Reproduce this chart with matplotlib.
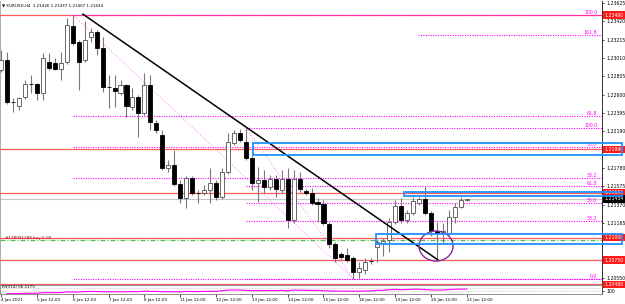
import numpy as np
import pandas as pd
import matplotlib
matplotlib.use("Agg")
import matplotlib.pyplot as plt
import matplotlib.transforms as mtransforms
from matplotlib.patches import Rectangle, Ellipse

# ---------------- data ----------------
header_text = "EURUSD,H4  1.21426 1.21437 1.21407 1.21434"
bar_index = list(range(3, 82))
opens = [1.22877, 1.22988, 1.22519, 1.22474, 1.22575, 1.22720, 1.22715, 1.22619, 1.22966, 1.22955,
         1.22888, 1.22966, 1.23368, 1.23189, 1.22988, 1.23245, 1.23301, 1.23122, 1.22686, 1.22675,
         1.22619, 1.22709, 1.22463, 1.22575, 1.22396, 1.22709, 1.22284, 1.22150, 1.21781, 1.21814,
         1.21601, 1.21445, 1.21669, 1.21501, 1.21497, 1.21535, 1.21613, 1.21456, 1.21736, 1.22060,
         1.22172, 1.22071, 1.21892, 1.21613, 1.21646, 1.21568, 1.21657, 1.21535, 1.21657, 1.21199,
         1.21657, 1.21523, 1.21501, 1.21401, 1.21378, 1.21155, 1.20931, 1.20819, 1.20808, 1.20775,
         1.20618, 1.20640, 1.20741, 1.20897, 1.20942, 1.20976, 1.21177, 1.21356, 1.21199, 1.21278,
         1.21390, 1.21434, 1.21278, 1.21077, 1.21054, 1.21054, 1.21233, 1.21345, 1.21426]
highs = [1.23100, 1.23078, 1.22563, 1.22575, 1.22765, 1.22821, 1.22731, 1.23066, 1.23066, 1.23011,
         1.23078, 1.23458, 1.23491, 1.23212, 1.23424, 1.23346, 1.23324, 1.23245, 1.22821, 1.22821,
         1.22765, 1.22720, 1.22675, 1.22597, 1.22843, 1.22821, 1.22317, 1.22206, 1.21870, 1.21982,
         1.21646, 1.21691, 1.21691, 1.21535, 1.21590, 1.21781, 1.21646, 1.21781, 1.22172, 1.22206,
         1.22217, 1.22228, 1.21926, 1.21792, 1.21758, 1.21702, 1.21702, 1.21758, 1.21781, 1.21758,
         1.21736, 1.21546, 1.21557, 1.21445, 1.21423, 1.21177, 1.20953, 1.20842, 1.20886, 1.20797,
         1.20730, 1.20775, 1.20775, 1.20976, 1.20998, 1.21222, 1.21423, 1.21445, 1.21311, 1.21456,
         1.21456, 1.21568, 1.21300, 1.21177, 1.21166, 1.21311, 1.21390, 1.21456, 1.21437]
lows = [1.22854, 1.22496, 1.22407, 1.22429, 1.22553, 1.22619, 1.22541, 1.22541, 1.22877, 1.22877,
        1.22765, 1.22944, 1.23156, 1.22653, 1.22966, 1.23189, 1.23044, 1.22630, 1.22452, 1.22463,
        1.22597, 1.22351, 1.22429, 1.22127, 1.22373, 1.22206, 1.22172, 1.21758, 1.21736, 1.21579,
        1.21390, 1.21334, 1.21479, 1.21390, 1.21479, 1.21390, 1.21423, 1.21434, 1.21714, 1.22038,
        1.22071, 1.21870, 1.21535, 1.21401, 1.21501, 1.21535, 1.21456, 1.21501, 1.21110, 1.21166,
        1.21512, 1.21479, 1.21367, 1.21177, 1.21144, 1.20886, 1.20730, 1.20752, 1.20730, 1.20540,
        1.20545, 1.20595, 1.20707, 1.20730, 1.20797, 1.20842, 1.21155, 1.21166, 1.21166, 1.21255,
        1.21367, 1.21255, 1.21021, 1.20752, 1.20942, 1.21032, 1.21166, 1.21334, 1.21407]
closes = [1.22988, 1.22519, 1.22515, 1.22563, 1.22720, 1.22715, 1.22619, 1.23011, 1.22899, 1.22888,
          1.22955, 1.23379, 1.23178, 1.22966, 1.23212, 1.23301, 1.23122, 1.22686, 1.22680, 1.22642,
          1.22709, 1.22474, 1.22575, 1.22396, 1.22709, 1.22295, 1.22206, 1.21781, 1.21814, 1.21601,
          1.21445, 1.21669, 1.21501, 1.21497, 1.21535, 1.21613, 1.21456, 1.21736, 1.22071, 1.22172,
          1.22094, 1.21892, 1.21613, 1.21646, 1.21568, 1.21657, 1.21546, 1.21657, 1.21199, 1.21657,
          1.21546, 1.21501, 1.21390, 1.21378, 1.21166, 1.20931, 1.20775, 1.20786, 1.20752, 1.20618,
          1.20663, 1.20730, 1.20735, 1.20953, 1.20965, 1.21177, 1.21356, 1.21199, 1.21278, 1.21412,
          1.21434, 1.21278, 1.21077, 1.21054, 1.21077, 1.21233, 1.21345, 1.21423, 1.21434]

time_tick_bars = [3, 9, 15, 21, 27, 33, 39, 45, 51, 57, 63, 69, 75, 81]
time_tick_labels = ["4 Jan 2021", "5 Jan 12:00", "6 Jan 12:00", "7 Jan 12:00", "8 Jan 12:00",
                    "11 Jan 12:00", "12 Jan 12:00", "13 Jan 12:00", "14 Jan 12:00", "15 Jan 12:00",
                    "18 Jan 12:00", "19 Jan 12:00", "20 Jan 12:00", "21 Jan 12:00"]
price_ticks = [1.23625, 1.23420, 1.23215, 1.23010, 1.22805, 1.22600, 1.22395, 1.22190,
               1.21780, 1.21575, 1.21370, 1.21165, 1.20550]
red_levels = [1.23490, 1.21990, 1.21500, 1.21000, 1.20750, 1.20480]
current_price = 1.21434

fib_levels = [0.0, 38.2, 50.0, 61.8, 100.0, 161.8]
fibA_bars = (15, 62)
fibA_prices = (1.23491, 1.20540)
fibB_bars = (44, 62)
fibB_prices = (1.22228, 1.20540)
fibB_ext_start_bar = 72.8   # where the 161.8 line of the second set starts

trend_bars = (16.7, 76.2)
trend_prices = (1.23500, 1.20750)

box_start_bars = [45.2, 70.5, 65.8]
box_tops = [1.22060, 1.21512, 1.21041]
box_bottoms = [1.21926, 1.21467, 1.20931]

order_price = 1.20976
order_text = "#178091288 buy 5.00"

ellipse_bar, ellipse_price = 75.85, 1.20907
ellipse_w_bars, ellipse_h_price = 5.7, 0.00336

rsi_period = 14
rsi_label = "RSI(14) 56.1175"

# ---------------- layout ----------------
W, H = 625, 304
fig = plt.figure(figsize=(W / 100, H / 100), dpi=100)
fig.patch.set_facecolor("white")

ax_right_px = 602
main_top, main_bot = 1, 285
rsi_top, rsi_bot = 285, 294
ax = fig.add_axes([0, 1 - main_bot / H, ax_right_px / W, (main_bot - main_top) / H])
axr = fig.add_axes([0, 1 - rsi_bot / H, ax_right_px / W, (rsi_bot - rsi_top) / H])

x_left, x_right = 2.814, 103.65
y_top, y_bot = 1.23647, 1.20471
ax.set_xlim(x_left, x_right)
ax.set_ylim(y_bot, y_top)
axr.set_xlim(x_left, x_right)
axr.set_ylim(-5, 105)

FS = 3.3
MAG = "#ff00ff"

# candles
for i, o, h, l, c in zip(bar_index, opens, highs, lows, closes):
    ax.plot([i, i], [l, h], color="#7a7a7a", lw=0.8, solid_capstyle="butt", zorder=4)
    bw = 0.68
    if abs(c - o) < 0.00003:
        ax.plot([i - bw / 2, i + bw / 2], [c, c], color="black", lw=0.9, zorder=5)
    else:
        up = c > o
        ax.add_patch(Rectangle((i - bw / 2, min(o, c)), bw, abs(c - o),
                               facecolor="white" if up else "black",
                               edgecolor="#505050" if up else "black", lw=0.6, zorder=5))

trans_r = mtransforms.blended_transform_factory(ax.transAxes, ax.transData)

# red horizontal levels
for p in red_levels:
    ax.axhline(p, color="#ff5a5a", lw=0.9, zorder=3)
    ax.text(1.004, p, f"{p:.5f}", transform=trans_r, fontsize=FS, color="white",
            va="center", ha="left", zorder=10, clip_on=False,
            bbox=dict(boxstyle="square,pad=0.25", fc="#ff1a1a", ec="none"))

# current price line
ax.axhline(current_price, color="#c8c8c8", lw=0.8, zorder=2)
ax.text(1.004, current_price, f"{current_price:.5f}", transform=trans_r, fontsize=FS,
        color="white", va="center", ha="left", zorder=11, clip_on=False,
        bbox=dict(boxstyle="square,pad=0.25", fc="black", ec="none"))

# fib retracements
def draw_fib(bars, prices, levels, ext_start=None, label_zero=True):
    hi, lo = prices
    ax.plot(bars, prices, color="#ff77ff", lw=0.7, ls=(0, (1, 2)), zorder=3)
    for lv in levels:
        p = lo + (hi - lo) * lv / 100.0
        if p > y_top:
            continue
        start = bars[0]
        if lv > 100 and ext_start is not None:
            start = ext_start
        ax.plot([start, x_right], [p, p], color=MAG, lw=0.8, ls=(0, (1, 1.2)), zorder=3)
        if lv == 0.0 and not label_zero:
            continue
        ax.text(x_right - 0.8, p, f"{lv:.1f}", fontsize=FS, color=MAG,
                ha="right", va="bottom", zorder=6)

draw_fib(fibA_bars, fibA_prices, fib_levels)
draw_fib(fibB_bars, fibB_prices, fib_levels, ext_start=fibB_ext_start_bar, label_zero=False)

# trend line
ax.plot(trend_bars, trend_prices, color="black", lw=1.1, zorder=7)

# blue rectangles (extend over price scale)
for s, t, b in zip(box_start_bars, box_tops, box_bottoms):
    ax.add_patch(Rectangle((s, b), 107.0 - s, t - b, fill=False, edgecolor="#1e90ff",
                           lw=1.3, zorder=12, clip_on=False))

# order line
ax.axhline(order_price, color="#55bb55", lw=0.9, ls=(0, (4, 1.5, 1, 1.5)), zorder=3)
ax.text(3.6, order_price + 0.00002, order_text, fontsize=3.0, color="#8b0000",
        va="bottom", ha="left", zorder=6)

# ellipse
ax.add_patch(Ellipse((ellipse_bar, ellipse_price), ellipse_w_bars, ellipse_h_price,
                     fill=False, edgecolor="#8a2a9a", lw=1.0, zorder=8))

# header
ax.text(0.004, 0.992, "\u25BC " + header_text, transform=ax.transAxes, fontsize=3.0,
        color="black", va="top", ha="left", zorder=10)

# price axis
ax.yaxis.tick_right()
ax.set_yticks(price_ticks)
ax.set_yticklabels([f"{p:.5f}" for p in price_ticks])
ax.tick_params(axis="y", labelsize=FS, length=1.5, width=0.5, pad=1.5, colors="black")
ax.set_xticks([])
for s in ["top", "bottom"]:
    ax.spines[s].set_visible(False)
ax.spines["left"].set_color("#a0a0a0")
ax.spines["left"].set_linewidth(0.6)
ax.spines["right"].set_color("#303030")
ax.spines["right"].set_linewidth(0.7)

# RSI sub-window
c = pd.Series(closes)
d = c.diff()
gain = d.clip(lower=0).ewm(alpha=1 / rsi_period, adjust=False).mean()
loss = (-d.clip(upper=0)).ewm(alpha=1 / rsi_period, adjust=False).mean()
rsi = 100 - 100 / (1 + gain / loss.replace(0, np.nan))
axr.plot(bar_index, rsi, color=MAG, lw=0.8, zorder=3)
for lv in (30, 70):
    axr.axhline(lv, color="#c0c0c0", lw=0.5, ls=(0, (1, 1)))
axr.text(0.004, 0.95, rsi_label, transform=axr.transAxes, fontsize=3.0,
         va="top", ha="left", color="black", zorder=5)
axr.yaxis.tick_right()
axr.set_yticks([30])
axr.set_yticklabels(["100"])
axr.tick_params(axis="y", labelsize=FS, length=1.5, width=0.5, pad=1.5)
axr.set_xticks(time_tick_bars)
axr.set_xticklabels(time_tick_labels, ha="left")
axr.tick_params(axis="x", labelsize=3.0, length=2, width=0.5, pad=1.2)
for s in axr.spines.values():
    s.set_color("#808080")
    s.set_linewidth(0.6)
axr.spines["right"].set_color("#303030")

fig.savefig("out.png", dpi=100, facecolor="white")
